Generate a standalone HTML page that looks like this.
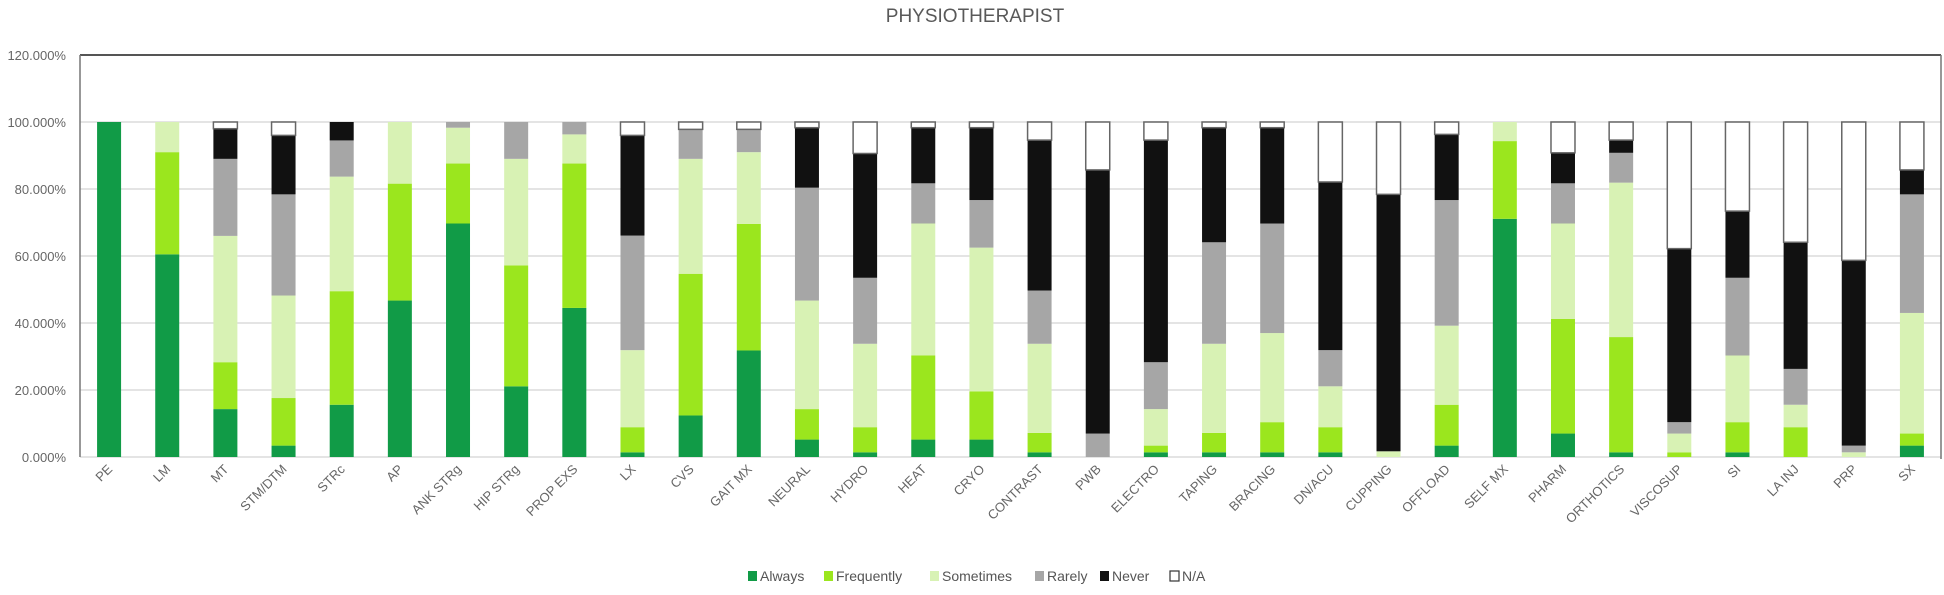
<!DOCTYPE html>
<html><head><meta charset="utf-8"><style>
body{margin:0;background:#fff;}
svg{display:block;font-family:"Liberation Sans",sans-serif;}
</style></head><body>
<svg id="chart" width="1944" height="595" viewBox="0 0 1944 595">
<text x="975" y="22" text-anchor="middle" font-size="19" fill="#595959">PHYSIOTHERAPIST</text>
<g id="grid"></g><g id="bars"></g><g id="xlabels"></g><g id="legend"></g>
</svg>
<script>
const categories=["PE","LM","MT","STM/DTM","STRc","AP","ANK STRg","HIP STRg","PROP EXS","LX","CVS","GAIT MX","NEURAL","HYDRO","HEAT","CRYO","CONTRAST","PWB","ELECTRO","TAPING","BRACING","DN/ACU","CUPPING","OFFLOAD","SELF MX","PHARM","ORTHOTICS","VISCOSUP","SI","LA INJ","PRP","SX"];
const always=[100,60.5,14.3,3.4,15.6,46.7,69.7,21.1,44.5,1.4,12.4,31.8,5.2,1.4,5.2,5.2,1.4,0,1.4,1.4,1.4,1.4,0,3.4,71.1,7,1.4,0,1.4,0,0,3.4];
const frequently=[0,30.5,14,14.2,33.9,34.9,17.9,36.1,43.1,7.5,42.3,37.8,9.1,7.5,25.1,14.4,5.8,0,2,5.8,9,7.5,0,12.2,23.2,34.2,34.4,1.4,9,8.9,0,3.6];
const sometimes=[0,9,37.7,30.6,34.2,18.4,10.7,31.8,8.7,23,34.3,21.4,32.4,24.9,39.4,42.9,26.6,0,10.9,26.6,26.6,12.2,1.7,23.6,5.7,28.5,46.1,5.6,19.9,6.7,1.4,36];
const rarely=[0,0,23,30.2,10.8,0,1.7,11,3.7,34.2,8.8,6.8,33.7,19.7,12,14.2,15.9,7,14,30.3,32.7,10.8,0,37.5,0,12,8.9,3.4,23.2,10.7,2,35.4];
const never=[0,0,9,17.6,5.5,0,0,0,0,29.9,0,0,17.9,37.1,16.6,21.6,44.9,78.7,66.3,34.2,28.6,50.2,76.7,19.6,0,9.1,3.8,51.8,19.9,37.8,55.3,7.3];
const na=[0,0,2,4,0,0,0,0,0,4,2.2,2.2,1.7,9.4,1.7,1.7,5.4,14.3,5.4,1.7,1.7,17.9,21.6,3.7,0,9.2,5.4,37.8,26.6,35.9,41.3,14.3];
const yTicks=[0,20,40,60,80,100,120];
const seriesNames=["Always","Frequently","Sometimes","Rarely","Never","N/A"];
const series=[always,frequently,sometimes,rarely,never,na];
const colors=["#119b47","#9be61e","#d8f2b4","#a6a6a6","#111111","#ffffff"];
const NS="http://www.w3.org/2000/svg";
const L=80,R=1941,T=55,B=457;
const y=v=>B-(v/120)*(B-T);
const step=(R-L)/categories.length;
const xc=i=>L+step*(i+0.5);
const bw=24;
function mk(tag,attrs,parent){const e=document.createElementNS(NS,tag);for(const k in attrs)e.setAttribute(k,attrs[k]);parent.appendChild(e);return e;}
const grid=document.getElementById('grid');
yTicks.forEach(t=>{
  const ln=mk('line',{x1:L,x2:R,y1:y(t),y2:y(t),stroke:t===120?'#555':'#dcdcdc','stroke-width':t===120?2:1.5},grid);
  
  
  const tx=mk('text',{x:66,y:y(t)+5,'text-anchor':'end','font-size':13,fill:'#666'},grid);
  tx.textContent=t.toFixed(3)+'%';
  
  
});
const ax=mk('line',{x1:L,x2:L,y1:T,y2:B,stroke:'#777','stroke-width':1.5},grid);


const rb=mk('line',{x1:R,x2:R,y1:T,y2:B+2,stroke:'#777','stroke-width':1.5},grid);


const bars=document.getElementById('bars');
const xl=document.getElementById('xlabels');
categories.forEach((c,i)=>{
  let cum=0;
  series.forEach((s,k)=>{
    const v=s[i];
    if(v>0){
      const r=mk('rect',{x:xc(i)-bw/2,y:y(cum+v),width:bw,height:y(cum)-y(cum+v),fill:colors[k],stroke:k===5?'#666':'none','stroke-width':k===5?1.5:0},bars);
      
      
    }
    cum+=v;
  });
  const t=mk('text',{x:xc(i)+4,y:470,'text-anchor':'end','font-size':13,fill:'#666',transform:`rotate(-45 ${xc(i)+4} 470)`},xl);
  t.textContent=c;
  
  
});
const lg=document.getElementById('legend');
const lx=[748,824,930,1035,1100,1170];
seriesNames.forEach((n,k)=>{
  const g=mk('g',{},lg);
  
  
  mk('rect',{x:lx[k],y:571,width:9,height:10,fill:colors[k],stroke:k===5?'#333':'none','stroke-width':1.2},g);
  const t=mk('text',{x:lx[k]+12,y:581,'font-size':14,fill:'#555'},g);
  t.textContent=n;
});
</script>
</body></html>
